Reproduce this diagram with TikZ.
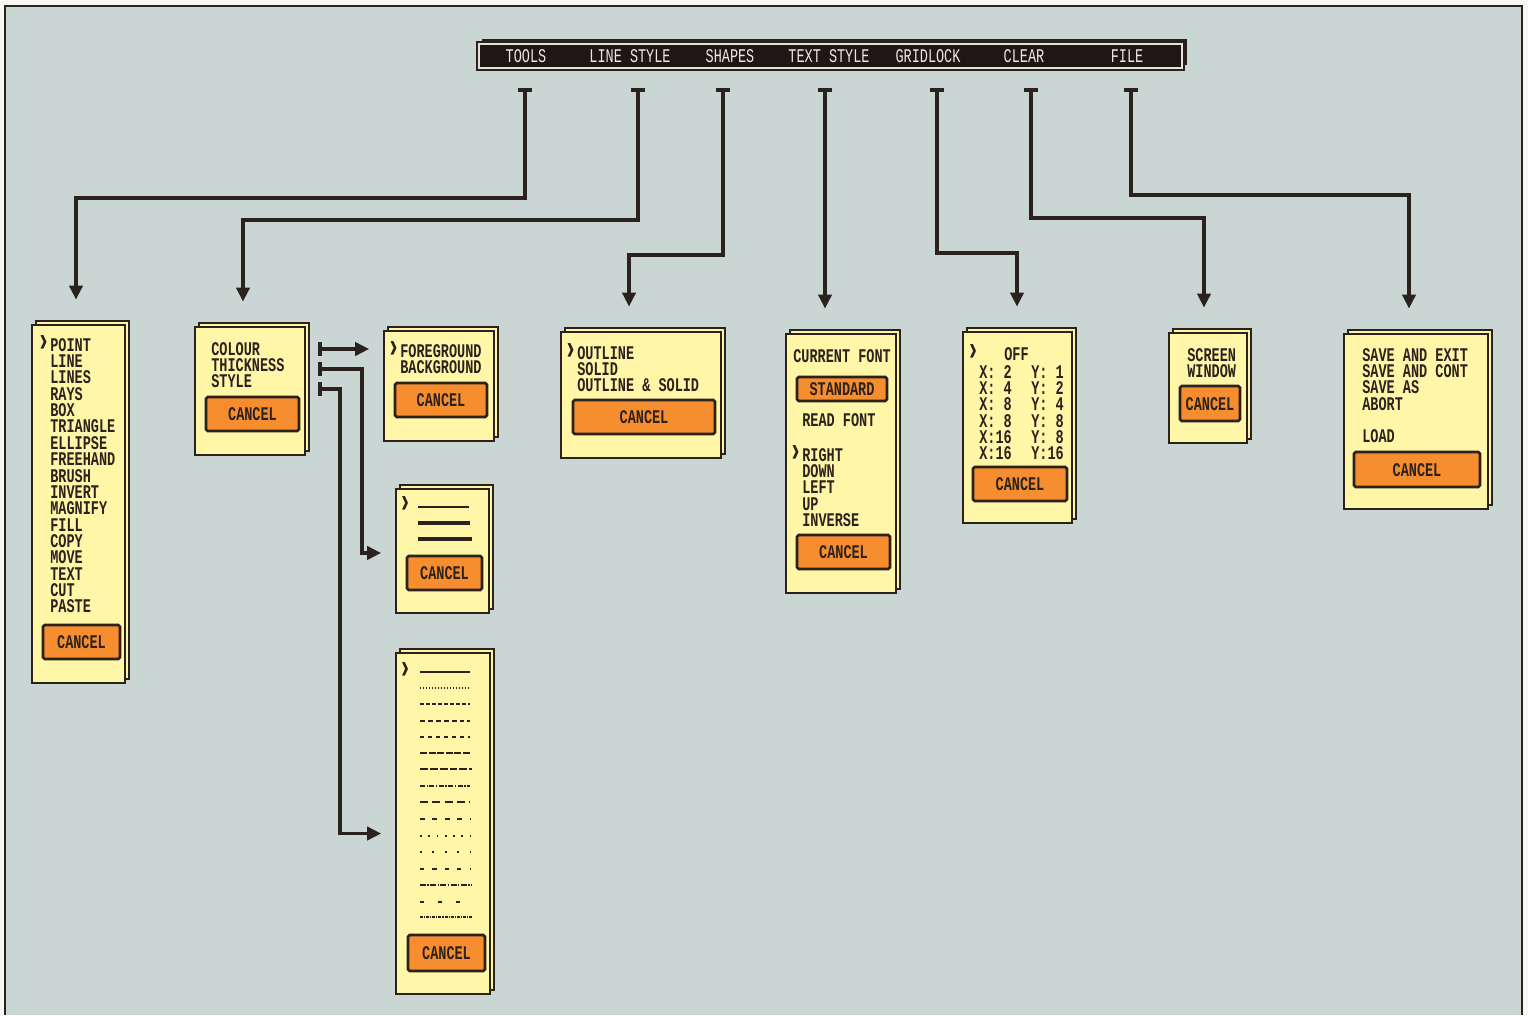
\documentclass[tikz,border=0pt]{standalone}
\usepackage{graphicx}
\usepackage{fontspec}
\newfontfamily\pixfont[FakeStretch=0.7]{Liberation Mono}
\usetikzlibrary{arrows.meta,positioning,calc,fit}
\definecolor{screen}{HTML}{C9D6D3}
\definecolor{outside}{HTML}{F6F6F2}
\definecolor{paper}{HTML}{FFF6A8}
\definecolor{ink}{HTML}{2B211D}
\definecolor{btn}{HTML}{F68D2E}
\definecolor{barink}{HTML}{1F1716}
\definecolor{bartext}{HTML}{EEE8E0}
\newcommand{\menufont}{\pixfont\bfseries\fontsize{11pt}{9.3pt}\selectfont}
\newcommand{\barfont}{\pixfont\fontsize{11pt}{11pt}\selectfont}
\newcommand{\chev}{\scalebox{1.7}[1.8]{›}}
\newcommand{\selmark}{\llap{\smash{\chev}}}

\begin{document}
\begin{tikzpicture}[x=0.02cm, y=-0.02cm,
  page/.style={draw=ink, fill=paper, line width=0.9pt, inner sep=0pt,
               preaction={draw=ink, fill=paper, line width=0.9pt,
                          transform canvas={xshift=2.3pt, yshift=2.3pt}}},
  menubar/.style={fill=barink, draw=bartext!70!screen, line width=1.1pt, inner sep=0pt,
                  preaction={draw=ink, fill=screen, line width=0.8pt,
                             transform canvas={xshift=2.3pt, yshift=2.3pt}},
                  preaction={draw=ink, line width=3.2pt}},
  baritem/.style={font=\barfont, text=bartext, inner sep=0pt},
  item/.style={font=\menufont, text=ink, align=left, inner sep=0pt, anchor=north west},
  button/.style={draw=ink, fill=btn, line width=1.5pt, rounded corners=1pt, inner sep=0pt,
                 minimum height=0.68cm, font=\menufont, text=ink, text height=7.4pt, text depth=0pt},
  link/.style={draw=ink, line width=2.2pt, {Bar[width=8pt]}-{Triangle[length=8pt, width=7.5pt]},
               shorten >=14pt},
  sublink/.style={link, shorten >=8pt},
  patline/.style={draw=ink, line width=1.4pt}]

\useasboundingbox (0,0) rectangle (1528,1015);
\fill[outside] (0,0) rectangle (1528,1015);
\fill[screen] (5,6) rectangle (1522,1015);
\draw[ink, line width=1.1pt] (5,1015) |- (1522,6) -- (1522,1015);

% menu bar
\node[menubar, fit={(479,44) (1182,68)}] (bar) {};
\node[baritem] (mTools) at (526,56) {TOOLS};
\node[baritem] (mLine)  at (630,56) {LINE STYLE};
\node[baritem] (mShape) at (730,56) {SHAPES};
\node[baritem] (mText)  at (829,56) {TEXT STYLE};
\node[baritem] (mGrid)  at (928,56) {GRIDLOCK};
\node[baritem] (mClear) at (1024,56) {CLEAR};
\node[baritem] (mFile)  at (1127,56) {FILE};

% pull-down pages
\node[page, fit={(32,325) (125,683)}] (tools) {};
\node[item] (toolsList) at (50,338) {\selmark POINT\\LINE\\LINES\\RAYS\\BOX\\TRIANGLE\\ELLIPSE\\FREEHAND\\BRUSH\\INVERT\\MAGNIFY\\FILL\\COPY\\MOVE\\TEXT\\CUT\\PASTE};
\node[button, minimum width=1.54cm] (toolsCancel) at (81.5,642) {CANCEL};

\node[page, fit={(195,327) (305,455)}] (lstyle) {};
\node[item] (lstyleList) at (211,342) {COLOUR\\THICKNESS\\STYLE};
\node[button, minimum width=1.86cm] (lstyleCancel) at (252.5,414) {CANCEL};

\node[page, fit={(384,331) (494,441)}] (fore) {};
\node[item] (foreList) at (400,344) {\selmark FOREGROUND\\BACKGROUND};
\node[button, minimum width=1.84cm] (foreCancel) at (441,400) {CANCEL};

\node[page, fit={(396,489) (489,613)}] (thick) {};
\node[item, anchor=base] (thickSel) at (405,512) {\chev};
\draw[ink, line width=0.9pt] (418,507) -- (469,507);
\draw[ink, line width=1.9pt] (418,523) -- (470,523);
\draw[ink, line width=2.8pt] (418,539) -- (472,539);
\node[button, minimum width=1.5cm] (thickCancel) at (444.5,573) {CANCEL};

\node[page, fit={(396,653) (490,994)}] (style) {};
\node[item, anchor=base] (styleSel) at (405,678) {\chev};
\draw[patline] (420,672) -- (470,672);
\draw[patline, dash pattern=on 0.6pt off 1.1pt] (420,688) -- (470,688);
\draw[patline, dash pattern=on 2.3pt off 1.1pt] (420,704) -- (470,704);
\draw[patline, dash pattern=on 2.8pt off 1.7pt] (420,721) -- (470,721);
\draw[patline, dash pattern=on 2.3pt off 2.3pt] (420,737) -- (470,737);
\draw[patline, dash pattern=on 4pt off 0.9pt] (420,753) -- (470,753);
\draw[patline, dash pattern=on 4.5pt off 1.1pt] (420,769) -- (472,769);
\draw[patline, dash pattern=on 2.8pt off 0.9pt on 0.8pt off 0.9pt] (420,786) -- (470,786);
\draw[patline, dash pattern=on 4.5pt off 2.5pt] (420,802) -- (470,802);
\draw[patline, dash pattern=on 2.8pt off 4.3pt] (420,819) -- (470,819);
\draw[patline, dash pattern=on 1.1pt off 3.6pt] (420,836) -- (470,836);
\draw[patline, dash pattern=on 1.1pt off 6pt] (420,852) -- (470,852);
\draw[patline, dash pattern=on 2.3pt off 4.8pt] (420,869) -- (470,869);
\draw[patline, dash pattern=on 3.4pt off 0.8pt on 0.8pt off 0.8pt] (420,885) -- (472,885);
\draw[patline, dash pattern=on 2.3pt off 8pt] (420,902) -- (470,902);
\draw[patline, dash pattern=on 1.7pt off 0.6pt on 0.6pt off 0.6pt] (420,917) -- (472,917);
\node[button, minimum width=1.54cm, minimum height=0.72cm] (styleCancel) at (446.5,953) {CANCEL};

\node[page, fit={(561,332) (721,458)}] (shapes) {};
\node[item] (shapesList) at (577,346) {\selmark OUTLINE\\SOLID\\OUTLINE \& SOLID};
\node[button, minimum width=2.84cm] (shapesCancel) at (644,417) {CANCEL};

\node[page, fit={(786,334) (896,593)}] (textst) {};
\node[item] (textFont) at (793,349) {CURRENT FONT};
\node[button, minimum width=1.8cm, minimum height=0.48cm] (textStd) at (842,389) {STANDARD};
\node[item] (textRead) at (802,413) {READ FONT};
\node[item] (textList) at (802,448) {\selmark RIGHT\\DOWN\\LEFT\\UP\\INVERSE};
\node[button, minimum width=1.86cm] (textCancel) at (843.5,552) {CANCEL};

\node[page, fit={(963,332) (1072,523)}] (grid) {};
\node[item, anchor=base] (gridSel) at (973,360) {\chev};
\node[item] (gridOff) at (1004,347) {OFF};
\node[item] (gridX) at (979,365) {X: 2\\X: 4\\X: 8\\X: 8\\X:16\\X:16};
\node[item] (gridY) at (1031,365) {Y: 1\\Y: 2\\Y: 4\\Y: 8\\Y: 8\\Y:16};
\node[button, minimum width=1.88cm] (gridCancel) at (1020,484) {CANCEL};

\node[page, fit={(1169,333) (1247,443)}] (clear) {};
\node[item] (clearList) at (1187,348) {SCREEN\\WINDOW};
\node[button, minimum width=1.2cm, minimum height=0.7cm] (clearCancel) at (1210,403.5) {CANCEL};

\node[page, fit={(1344,334) (1488,509)}] (file) {};
\node[item] (fileList) at (1362,348) {SAVE AND EXIT\\SAVE AND CONT\\SAVE AS\\ABORT\\[9.3pt]LOAD};
\node[button, minimum width=2.52cm, minimum height=0.7cm] (fileCancel) at (1417,469.5) {CANCEL};

% connectors from the bar
\coordinate (sTools) at (525,88);
\coordinate (sLine)  at (638,88);
\coordinate (sShape) at (723,88);
\coordinate (sText)  at (825,88);
\coordinate (sGrid)  at (937,88);
\coordinate (sClear) at (1031,88);
\coordinate (sFile)  at (1131,88);

\draw[link] (sTools) -- ++(0,110) -| ($(tools.north)+(-2.5,0)$);
\draw[link] (sLine)  -- ++(0,132) -| ($(lstyle.north)+(-7,0)$);
\draw[link] (sShape) -- ++(0,167) -| ($(shapes.north)+(-12,0)$);
\draw[link] (sText)  -- (sText |- textst.north);
\draw[link] (sGrid)  -- ++(0,165) -| ($(grid.north)+(-0.5,0)$);
\draw[link] (sClear) -- ++(0,130) -| ($(clear.north)+(-4,0)$);
\draw[link] (sFile)  -- ++(0,107) -| ($(file.north)+(-7,0)$);

% connectors from line style
\coordinate (lsA) at (318,349);
\coordinate (lsB) at (318,369);
\coordinate (lsC) at (318,389);
\draw[sublink] (lsA) -- (lsA -| fore.west);
\draw[sublink] (lsB) -- ++(44,0) |- ($(thick.west)+(0,2)$);
\draw[sublink] (lsC) -- ++(22,0) |- ($(style.west)+(0,10)$);
\end{tikzpicture}
\end{document}
